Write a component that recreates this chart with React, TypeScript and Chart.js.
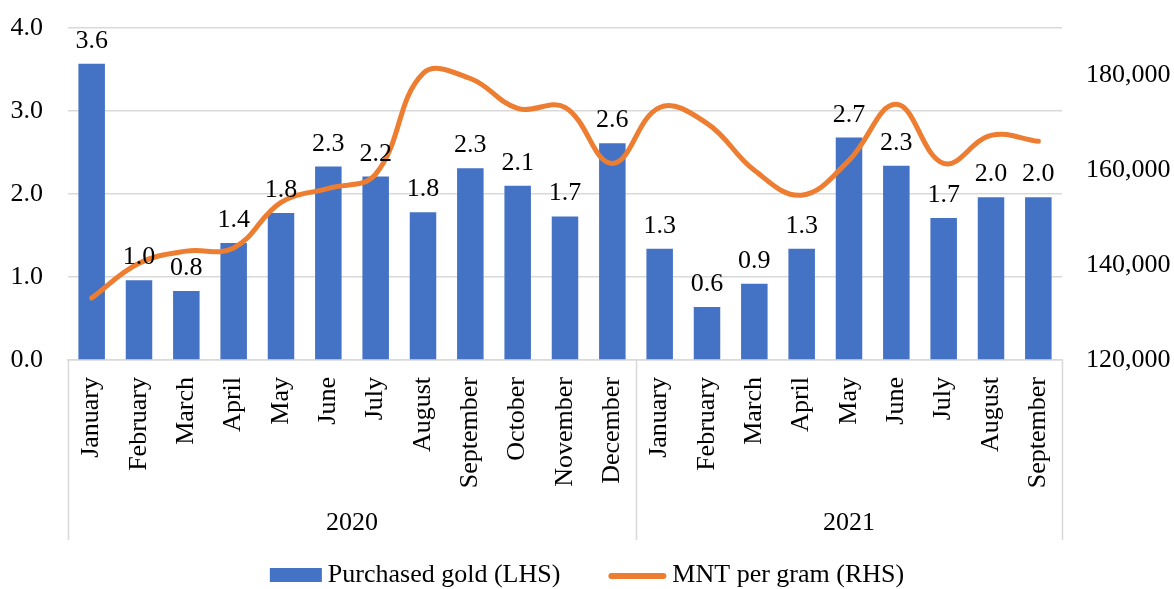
import { useEffect, useRef } from 'react';
import { Chart, registerables } from 'chart.js';

Chart.register(...registerables);

const months = [
  'January', 'February', 'March', 'April', 'May', 'June', 'July', 'August',
  'September', 'October', 'November', 'December',
  'January', 'February', 'March', 'April', 'May', 'June', 'July', 'August', 'September',
];
const years = ['2020', '2021'];
const yearSpans = [12, 9];

const purchasedGold = [
  3.57, 0.96, 0.83, 1.41, 1.77, 2.33, 2.21, 1.78, 2.31, 2.1, 1.73, 2.61,
  1.34, 0.64, 0.92, 1.34, 2.68, 2.34, 1.71, 1.96, 1.96,
];
const mntPerGram = [
  133050, 140400, 142950, 143600, 153250, 156200, 159200, 180400, 179350, 173050, 173250, 161450,
  173250, 169900, 160000, 154750, 162100, 173900, 161450, 167350, 166100,
];

const seriesNames = ['Purchased gold (LHS)', 'MNT per gram (RHS)'];
const leftTickValues = [0, 1, 2, 3, 4];
const rightTickValues = [120000, 140000, 160000, 180000];
const rightAxisMax = 190000;

const FONT = "'Liberation Serif', 'Times New Roman', serif";
const BLUE = '#4472C4';
const ORANGE = '#ED7D31';
const GRID = '#D9D9D9';

const barLabelPlugin = {
  id: 'barLabels',
  afterDatasetsDraw(chart: any) {
    const ctx = chart.ctx;
    const meta = chart.getDatasetMeta(0);
    ctx.save();
    ctx.font = `26px ${FONT}`;
    ctx.fillStyle = '#000';
    ctx.textAlign = 'center';
    ctx.textBaseline = 'alphabetic';
    meta.data.forEach((el: any, i: number) => {
      const v = chart.data.datasets[0].data[i] as number;
      ctx.fillText(v.toFixed(1), el.x, el.y - 16);
    });
    ctx.restore();
  },
};

const groupAxisPlugin = {
  id: 'groupAxis',
  afterDraw(chart: any) {
    const ctx = chart.ctx;
    const x = chart.scales.x;
    const area = chart.chartArea;
    const bounds: number[] = [area.left];
    let idx = 0;
    yearSpans.forEach((n, gi) => {
      idx += n;
      if (gi < yearSpans.length - 1) {
        bounds.push((x.getPixelForValue(idx - 1) + x.getPixelForValue(idx)) / 2);
      }
    });
    bounds.push(area.right);
    ctx.save();
    ctx.strokeStyle = GRID;
    ctx.lineWidth = 1.5;
    bounds.forEach((b) => {
      ctx.beginPath();
      ctx.moveTo(Math.round(b) + 0.5, area.bottom);
      ctx.lineTo(Math.round(b) + 0.5, 540);
      ctx.stroke();
    });
    ctx.font = `26px ${FONT}`;
    ctx.fillStyle = '#000';
    ctx.textAlign = 'center';
    ctx.textBaseline = 'middle';
    years.forEach((y, i) => {
      ctx.fillText(y, (bounds[i] + bounds[i + 1]) / 2, 523);
    });
    ctx.restore();
  },
};

const legendPlugin = {
  id: 'customLegend',
  afterDraw(chart: any) {
    const ctx = chart.ctx;
    ctx.save();
    ctx.font = `26px ${FONT}`;
    const t1 = ctx.measureText(seriesNames[0]).width;
    const t2 = ctx.measureText(seriesNames[1]).width;
    const sw1 = 52, sw2 = 58, gapText = 6, gapItems = 48;
    const total = sw1 + gapText + t1 + gapItems + sw2 + gapText + t2;
    let cx = (chart.width - total) / 2;
    const cy = 575;
    ctx.fillStyle = BLUE;
    ctx.fillRect(cx, cy - 7, sw1, 14);
    cx += sw1 + gapText;
    ctx.fillStyle = '#000';
    ctx.textAlign = 'left';
    ctx.textBaseline = 'middle';
    ctx.fillText(seriesNames[0], cx, cy);
    cx += t1 + gapItems;
    ctx.strokeStyle = ORANGE;
    ctx.lineWidth = 6;
    ctx.lineCap = 'round';
    ctx.beginPath();
    ctx.moveTo(cx + 3, cy + 1);
    ctx.lineTo(cx + sw2 - 3, cy + 1);
    ctx.stroke();
    cx += sw2 + gapText;
    ctx.fillText(seriesNames[1], cx, cy);
    ctx.restore();
  },
};

export default function App() {
  const ref = useRef<HTMLCanvasElement>(null);

  useEffect(() => {
    if (!ref.current) return;
    const chart = new Chart(ref.current, {
      type: 'bar',
      data: {
        labels: months,
        datasets: [
          {
            type: 'bar',
            label: seriesNames[0],
            data: purchasedGold,
            backgroundColor: BLUE,
            borderWidth: 0,
            barPercentage: 0.56,
            categoryPercentage: 1,
            yAxisID: 'y',
            order: 2,
          } as any,
          {
            type: 'line',
            label: seriesNames[1],
            data: mntPerGram,
            borderColor: ORANGE,
            backgroundColor: ORANGE,
            borderWidth: 5,
            pointRadius: 0,
            tension: 0.4,
            borderCapStyle: 'round',
            borderJoinStyle: 'round',
            yAxisID: 'y1',
            order: 1,
          } as any,
        ],
      },
      options: {
        responsive: false,
        animation: false,
        layout: { padding: { top: 28, left: 0, right: 0, bottom: 0 } },
        plugins: {
          legend: { display: false },
          tooltip: { enabled: false },
        },
        scales: {
          x: {
            offset: true,
            grid: { display: false, drawTicks: false },
            border: { display: true, color: GRID, width: 1.5 },
            ticks: {
              autoSkip: false,
              minRotation: 90,
              maxRotation: 90,
              padding: 17,
              color: '#000',
              font: { family: FONT, size: 26 },
            },
            afterFit: (s: any) => { s.height = 229; },
          },
          y: {
            position: 'left',
            min: leftTickValues[0],
            max: leftTickValues[leftTickValues.length - 1],
            grid: { color: GRID, lineWidth: 1.5, drawTicks: true, tickLength: 22, tickColor: 'rgba(0,0,0,0)' },
            border: { display: false },
            ticks: {
              padding: 3,
              color: '#000',
              font: { family: FONT, size: 26 },
              callback: (v: any) => Number(v).toFixed(1),
            },
            afterBuildTicks: (s: any) => { s.ticks = leftTickValues.map((v) => ({ value: v })); },
            afterFit: (s: any) => { s.width = 68; },
          },
          y1: {
            position: 'right',
            min: rightTickValues[0],
            max: rightAxisMax,
            grid: { display: false, drawTicks: true, tickLength: 21, tickColor: 'rgba(0,0,0,0)' },
            border: { display: false },
            ticks: {
              padding: 3,
              color: '#000',
              font: { family: FONT, size: 26 },
              callback: (v: any) => Number(v).toLocaleString('en-US'),
            },
            afterBuildTicks: (s: any) => { s.ticks = rightTickValues.map((v) => ({ value: v })); },
            afterFit: (s: any) => { s.width = 112; },
          },
        },
      } as any,
      plugins: [barLabelPlugin, groupAxisPlugin, legendPlugin],
    });
    return () => chart.destroy();
  }, []);

  return (
    <div style={{ position: 'absolute', left: 0, top: 0, width: 1174, height: 589, background: '#fff' }}>
      <canvas ref={ref} width={1174} height={589} />
    </div>
  );
}
